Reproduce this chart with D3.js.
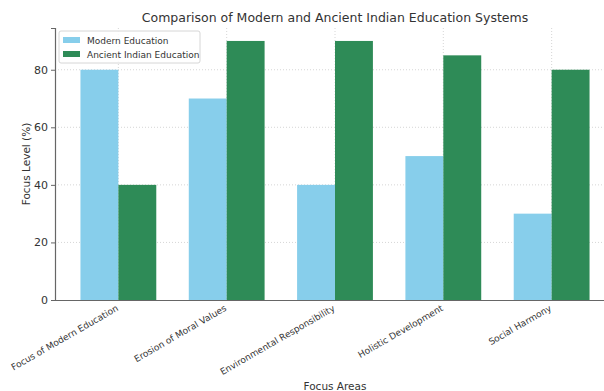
<!DOCTYPE html>
<html>
<head>
<meta charset="utf-8">
<script src="https://d3js.org/d3.v7.min.js"></script>
<style>
body{margin:0;background:#fff;}
text{font-family:"DejaVu Sans",sans-serif;}
</style>
</head>
<body>
<script>
var categories = ["Focus of Modern Education","Erosion of Moral Values","Environmental Responsibility","Holistic Development","Social Harmony"];
var modern = [80,70,40,50,30];
var ancient = [40,90,90,85,80];
var seriesNames = ["Modern Education","Ancient Indian Education"];
var yTicks = [0,20,40,60,80];

var width = 604, height = 391;
var mLeft = 55, mRight = 615, mTop = 28, mBottom = 300;
var colors = ["#87CEEB","#2E8B57"];

var svg = d3.select("body").append("svg")
  .attr("width",width).attr("height",height);

var x = d3.scaleLinear().domain([-0.585,4.585]).range([mLeft,mRight]);
var y = d3.scaleLinear().domain([0,94.5]).range([mBottom,mTop]);
var bw = 0.35;

// grid
svg.append("g").selectAll("line").data(yTicks.slice(1)).enter().append("line")
  .attr("x1",mLeft).attr("x2",mRight)
  .attr("y1",function(d){return y(d);}).attr("y2",function(d){return y(d);})
  .attr("stroke","#ccc").attr("stroke-width",0.8).attr("stroke-dasharray","1,2");
svg.append("g").selectAll("line").data(categories).enter().append("line")
  .attr("x1",function(d,i){return x(i);}).attr("x2",function(d,i){return x(i);})
  .attr("y1",mTop).attr("y2",mBottom)
  .attr("stroke","#ccc").attr("stroke-width",0.8).attr("stroke-dasharray","1,2");

// bars
var series = [modern, ancient];
series.forEach(function(vals,s){
  svg.append("g").selectAll("rect").data(vals).enter().append("rect")
    .attr("x",function(d,i){return x(i + (s===0 ? -bw : 0));})
    .attr("width",x(bw)-x(0))
    .attr("y",function(d){return y(d);})
    .attr("height",function(d){return mBottom - y(d);})
    .attr("fill",colors[s]);
});

// axes
var yaxis = d3.axisLeft(y).tickValues(yTicks).tickSize(4).tickPadding(3);
var gy = svg.append("g").attr("transform","translate(" + mLeft + ",0)").call(yaxis);
gy.select(".domain").attr("stroke","#666").attr("stroke-width",1.2);
gy.selectAll(".tick line").attr("stroke","#666");
gy.selectAll(".tick text").attr("fill","#333").style("font-size","11px");

var xaxis = d3.axisBottom(x).tickValues(d3.range(categories.length))
  .tickFormat(function(i){return categories[i];}).tickSize(0);
var gx = svg.append("g").attr("transform","translate(0," + mBottom + ")").call(xaxis);
gx.select(".domain").attr("stroke","#666").attr("stroke-width",1.2);
gx.selectAll(".tick text").attr("fill","#333").style("font-size","9px")
  .attr("text-anchor","end").attr("dy",null).attr("y",0)
  .attr("transform","translate(0,10) rotate(-30)");

// legend
var lg = svg.append("g").attr("transform","translate(59,31)");
lg.append("rect").attr("width",141).attr("height",32).attr("rx",2)
  .attr("fill","#fff").attr("fill-opacity",0.85).attr("stroke","#ccc").attr("stroke-width",0.8);
seriesNames.forEach(function(n,i){
  lg.append("rect").attr("x",4).attr("y",6 + i*14).attr("width",17).attr("height",6).attr("fill",colors[i]);
  lg.append("text").attr("x",28).attr("y",13 + i*14).text(n)
    .attr("fill","#333").style("font-size","9px");
});

// titles
svg.append("text").attr("x",335).attr("y",22).attr("text-anchor","middle")
  .attr("fill","#333").style("font-size","12.5px")
  .text("Comparison of Modern and Ancient Indian Education Systems");
svg.append("text").attr("x",335).attr("y",390).attr("text-anchor","middle")
  .attr("fill","#333").style("font-size","10.5px").text("Focus Areas");
svg.append("text").attr("transform","translate(30," + ((mTop+mBottom)/2) + ") rotate(-90)")
  .attr("text-anchor","middle").attr("fill","#333").style("font-size","10.5px")
  .text("Focus Level (%)");
</script>
</body>
</html>
